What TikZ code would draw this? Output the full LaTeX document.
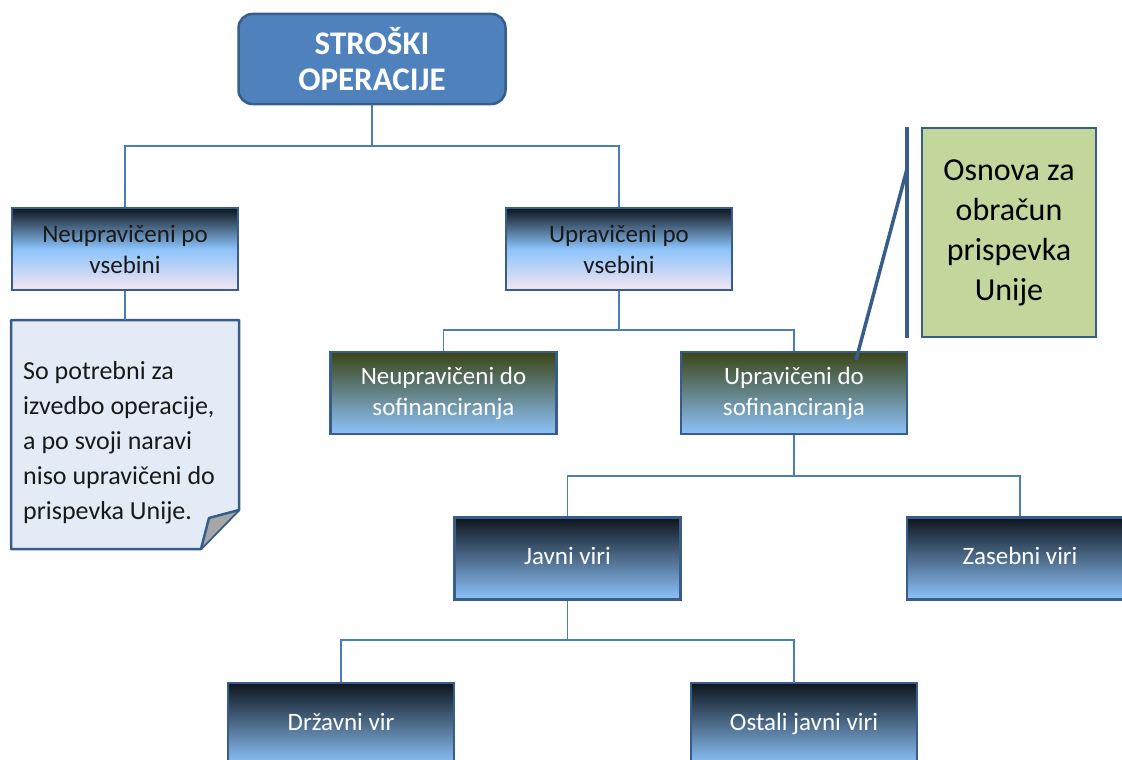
\documentclass[tikz,border=0pt]{standalone}
\usepackage{fontspec}
\setmainfont{Carlito}
\definecolor{topfill}{HTML}{4F81BD}
\definecolor{bord}{HTML}{385D8A}
\definecolor{conn}{HTML}{4A7EBB}
\definecolor{lblue}{HTML}{8DC3FA}
\definecolor{lpink}{HTML}{F3E6F2}
\definecolor{dark}{HTML}{0E151D}
\definecolor{olive}{HTML}{3B4416}
\definecolor{notefill}{HTML}{E3EBF7}
\definecolor{greenfill}{HTML}{C3D69B}
\definecolor{foldgray}{HTML}{A6A6A6}
\tikzset{
  every node/.style={inner sep=0pt},
  topbox/.style={draw=bord, line width=2.5pt, fill=topfill, rounded corners=14pt,
    minimum width=267pt, minimum height=90pt, align=center, text=white,
    font=\fontsize{33}{36}\selectfont\bfseries},
  lvlA/.style={draw=bord, line width=2.5pt, shading=axis, top color=dark, bottom color=lpink, middle color=lblue,
    minimum width=226pt, minimum height=82pt, align=center, text=black!90,
    font=\fontsize{25}{31}\selectfont},
  lvlB/.style={draw=bord, line width=2.5pt, shading=axis, top color=olive, bottom color=lblue,
    minimum width=226pt, minimum height=82pt, align=center, text=white,
    font=\fontsize{25}{31}\selectfont},
  lvlC/.style={draw=bord, line width=2.5pt, shading=axis, top color=dark, bottom color=lblue,
    minimum width=226pt, minimum height=82pt, align=center, text=white,
    font=\fontsize{25}{31}\selectfont, text height=17pt, text depth=5pt},
  link/.style={draw=conn, line width=1.3pt},
  thick link/.style={draw=bord, line width=3.5pt},
}
\begin{document}
\begin{tikzpicture}[x=1pt,y=-1pt]
\useasboundingbox (0,0) rectangle (1122,760);
% nodes
\node[topbox] (top) at (372,59) {STROŠKI\\OPERACIJE};
\node[lvlA] (nv) at (125,249) {Neupravičeni po\\vsebini};
\node[lvlA] (uv) at (619,249) {Upravičeni po\\vsebini};
\node[lvlB] (ns) at (443.5,393) {Neupravičeni do\\sofinanciranja};
\node[lvlB] (us) at (794,393) {Upravičeni do\\sofinanciranja};
\node[lvlC] (jv) at (567.5,558.5) {Javni viri};
\node[lvlC] (zv) at (1020,558.5) {Zasebni viri};
\node[lvlC] (dv) at (341,724) {Državni vir};
\node[lvlC] (ov) at (804,724) {Ostali javni viri};
% note with folded corner
\draw[draw=bord, line width=2.5pt, fill=notefill, line join=round]
  (11,320) -- (239,320) -- (239,510) -- (201,549) -- (11,549) -- cycle;
\fill[foldgray] (202,547) -- (209,518) -- (238,510) -- cycle;
\draw[draw=bord, line width=2.5pt, line join=round] (201,549) -- (209,518) -- (239,510);
\node[anchor=north west, align=left, text=black!90, font=\fontsize{26}{35}\selectfont] (note) at (23,361)
  {So potrebni za\\izvedbo operacije,\\a po svoji naravi\\niso upravičeni do\\prispevka Unije.};
\coordinate (notetop) at (125,320);
% green box
\node[draw=bord, line width=2.5pt, fill=greenfill, minimum width=174pt, minimum height=209pt,
  align=center, text=black, font=\fontsize{32}{40}\selectfont] (osn) at (1009,232.5)
  {Osnova za\\obračun\\prispevka\\Unije};
% bracket lines
\coordinate (br1) at (907,127);
\coordinate (br2) at (907,338);
\coordinate (brk) at (907,169);
\coordinate (usend) at (856,360);
\draw[thick link] (br1) -- (br2);
\draw[thick link] (brk) -- (usend);
% connectors
\coordinate (j1) at (372,146);
\draw[link] (top.south) -- (j1);
\draw[link] (nv.north) |- (j1) -| (uv.north);
\draw[link] (nv.south) -- (notetop);
\coordinate (j2) at (619,330);
\draw[link] (uv.south) -- (j2);
\draw[link] (ns.north) |- (j2) -| (us.north);
\coordinate (j3) at (794,476);
\draw[link] (us.south) -- (j3);
\draw[link] (jv.north) |- (j3) -| (zv.north);
\coordinate (j4) at (567.5,640);
\coordinate (ovin) at (794,683);
\draw[link] (jv.south) -- (j4);
\draw[link] (dv.north) |- (j4) -| (ovin);
\end{tikzpicture}
\end{document}
